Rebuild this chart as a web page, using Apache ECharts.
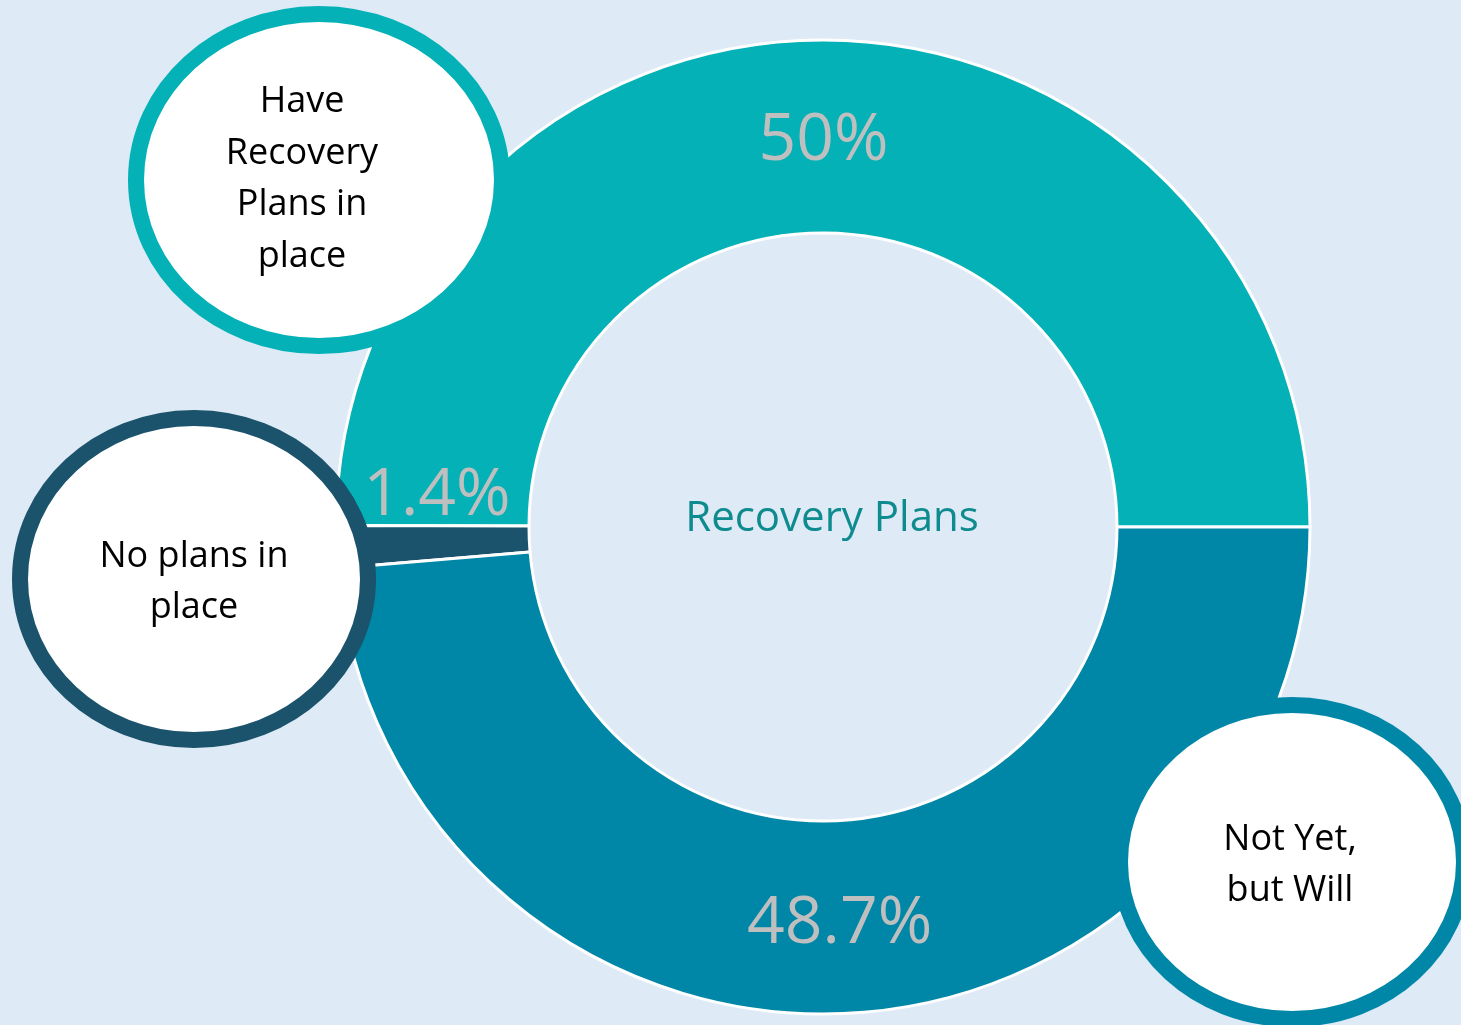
<!DOCTYPE html>
<html>
<head>
<meta charset="utf-8">
<script src="https://cdn.jsdelivr.net/npm/echarts@6/dist/echarts.min.js"></script>
<style>
  html, body { margin: 0; padding: 0; background: #DEEAF6; }
  #chart { width: 1461px; height: 1025px; }
</style>
</head>
<body>
<div id="chart"></div>
<script>
const categories = ['Have Recovery Plans in place', 'No plans in place', 'Not Yet, but Will'];
const values = [50, 1.4, 48.7];
const sliceColors = ['#03B1B6', '#1A536B', '#0087A7'];
const calloutTexts = ['Have\nRecovery\nPlans in\nplace', 'No plans in\nplace', 'Not Yet,\nbut Will'];
const centerTitle = 'Recovery Plans';

const FONT = '"Open Sans", "Noto Sans", sans-serif';

const chart = echarts.init(document.getElementById('chart'), null, { renderer: 'canvas' });

const labelOffsets = [[0, 8], [7, -47], [0, 4]];

const pieData = categories.map((name, i) => ({
  name: name,
  value: values[i],
  itemStyle: { color: sliceColors[i] },
  label: { offset: labelOffsets[i] }
}));

// callout bubble geometry (layout only)
const bubbles = [
  { cx: 319, cy: 180, rx: 183, ry: 166, tx: 302, ty: 179, color: '#03B1B6' },
  { cx: 194, cy: 579, rx: 174, ry: 161, tx: 194, ty: 582, color: '#1A536B' },
  { cx: 1292, cy: 862, rx: 172, ry: 157, tx: 1290, ty: 865, color: '#0087A7' }
];

const graphics = [];
bubbles.forEach((b, i) => {
  graphics.push({
    type: 'ellipse',
    shape: { cx: b.cx, cy: b.cy, rx: b.rx, ry: b.ry },
    style: { fill: '#FFFFFF', stroke: b.color, lineWidth: 16 },
    z: 10
  });
  graphics.push({
    type: 'text',
    x: b.tx,
    y: b.ty,
    style: {
      text: calloutTexts[i],
      fill: '#000000',
      font: '36px ' + FONT,
      align: 'center',
      verticalAlign: 'middle',
      lineHeight: 51.5
    },
    z: 11
  });
});
graphics.push({
  type: 'text',
  x: 832,
  y: 519,
  style: {
    text: centerTitle,
    fill: '#0E8B8E',
    font: '42px ' + FONT,
    align: 'center',
    verticalAlign: 'middle'
  },
  z: 5
});

chart.setOption({
  backgroundColor: '#DEEAF6',
  animation: false,
  series: [{
    type: 'pie',
    center: [823, 527],
    radius: [294, 487],
    startAngle: 0,
    clockwise: false,
    avoidLabelOverlap: false,
    silent: true,
    itemStyle: { borderColor: '#FFFFFF', borderWidth: 3 },
    label: {
      show: true,
      position: 'inside',
      formatter: '{c}%',
      color: '#BFBFBF',
      fontSize: 66,
      fontFamily: FONT,
      textBorderWidth: 0
    },
    labelLine: { show: false },
    emphasis: { disabled: true },
    data: pieData
  }],
  graphic: graphics
});
</script>
</body>
</html>
